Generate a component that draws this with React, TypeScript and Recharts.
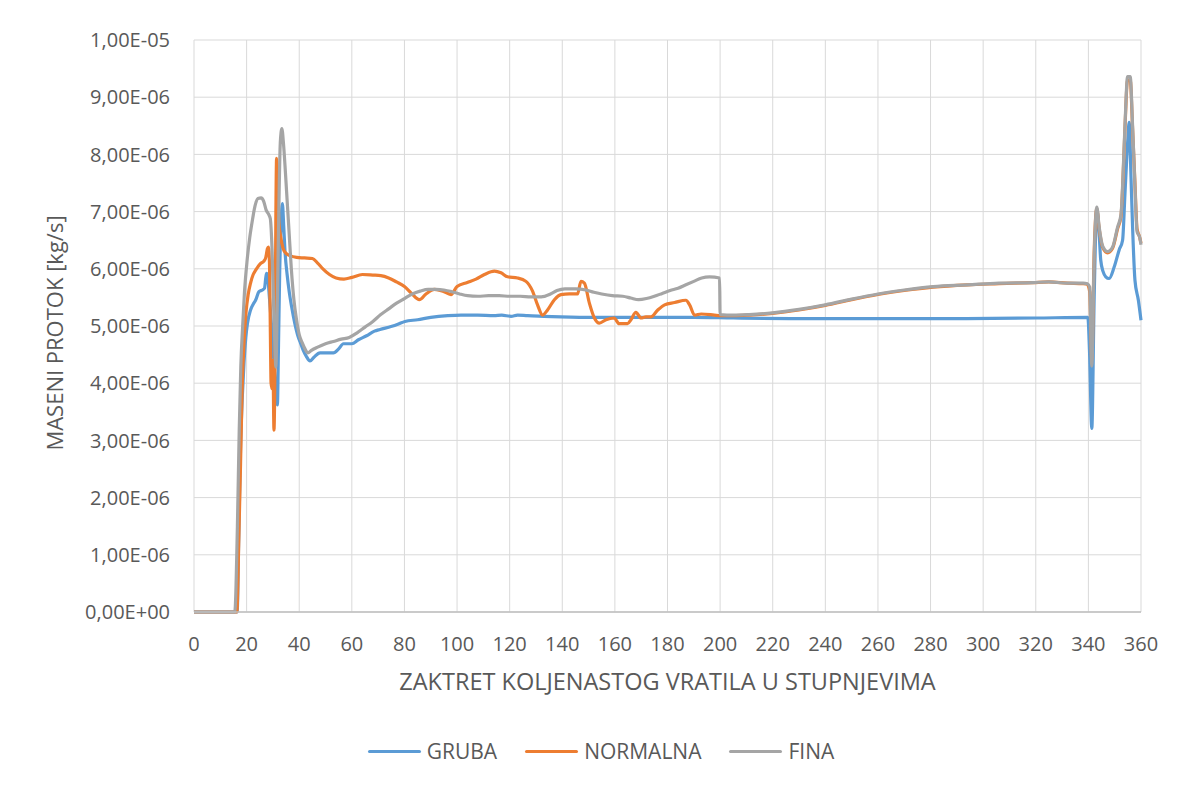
import React from 'react';
import { LineChart, Line, XAxis, YAxis, CartesianGrid, Legend } from 'recharts';

// values are in units of 1E-06 kg/s
const grubaDeg = [0, 16.4, 17, 17.7, 18.4, 19, 19.7, 20.3, 21.5, 22.5, 23.4, 24.7, 26, 26.8, 27.3, 27.6, 28, 28.5, 29, 29.8, 30.6, 31.2, 31.7, 32.1, 32.6, 33.1, 33.6, 34.1, 34.6, 35.4, 36.2, 37.1, 38.3, 39.6, 40.5, 41.5, 42.7, 44.1, 45.5, 47.9, 50, 53, 55, 56.8, 60, 62.5, 65.6, 68.6, 70.7, 74.9, 77.5, 80.2, 85, 90, 96.5, 101.5, 107.8, 114, 117, 120.5, 123, 126.8, 133, 139.5, 152, 165, 178, 190, 205, 230, 260, 290, 320, 339.8, 340.4, 341.3, 342.2, 343.2, 344.1, 344.7, 345.6, 346.6, 347.9, 349.8, 351.7, 353, 353.9, 354.9, 355.5, 356.2, 356.8, 357.7, 359, 360];
const grubaVal = [0, 0, 1.3, 2.9, 3.8, 4.35, 4.8, 5.04, 5.28, 5.38, 5.45, 5.6, 5.63, 5.66, 5.85, 5.92, 5.88, 5.6, 5.3, 4.8, 4.2, 3.75, 3.62, 4.6, 6.0, 6.8, 7.14, 6.75, 6.3, 5.9, 5.6, 5.34, 5.05, 4.81, 4.7, 4.58, 4.47, 4.39, 4.45, 4.53, 4.53, 4.53, 4.6, 4.69, 4.69, 4.76, 4.83, 4.91, 4.94, 4.99, 5.03, 5.08, 5.11, 5.15, 5.18, 5.19, 5.19, 5.18, 5.19, 5.17, 5.19, 5.18, 5.17, 5.16, 5.15, 5.15, 5.15, 5.15, 5.14, 5.13, 5.13, 5.13, 5.14, 5.15, 4.6, 3.21, 5.5, 7.05, 6.6, 6.15, 5.95, 5.86, 5.83, 6.03, 6.33, 6.5, 7.31, 8.19, 8.56, 7.6, 6.73, 5.8, 5.45, 5.1];

const normalnaDeg = [0, 16.3, 17, 17.7, 18.3, 19, 19.8, 20.6, 21.5, 22.5, 23.5, 24.5, 25.5, 26.5, 27.3, 27.9, 28.3, 28.7, 29, 29.3, 29.7, 30, 30.4, 30.8, 31.1, 31.4, 31.8, 32.3, 33, 33.9, 35, 36.5, 39, 42, 45, 47, 49, 51.5, 54, 57, 60, 64, 68, 71, 74, 77, 80, 82.5, 85.7, 88.2, 91.4, 94.6, 97.7, 100, 103.9, 107.2, 110.4, 114.2, 116.7, 119.2, 123, 126.2, 128.7, 130.6, 132.5, 134.4, 137, 139.5, 142.7, 145.8, 147.1, 148.4, 150.3, 152.2, 154.1, 156.6, 159.7, 161.6, 164.8, 166.1, 168, 169.9, 171.8, 173.7, 176.3, 178.9, 182.7, 187, 188.4, 190.3, 192.8, 197.8, 200, 205, 211, 220, 230, 240, 250, 260, 270, 281, 294, 306, 319, 325, 332, 338, 339.6, 340.5, 341.3, 342.2, 343.2, 344.1, 345.4, 347.3, 349.2, 351.1, 352.4, 353, 353.9, 354.9, 355.9, 356.8, 357.7, 358.5, 359.5, 360];
const normalnaVal = [0, 0, 1.2, 2.6, 3.9, 4.7, 5.25, 5.55, 5.75, 5.9, 5.98, 6.05, 6.1, 6.13, 6.2, 6.35, 6.38, 6.1, 5.0, 4.0, 3.9, 4.4, 3.18, 4.5, 6.8, 7.93, 7.4, 6.8, 6.55, 6.35, 6.27, 6.23, 6.2, 6.19, 6.18, 6.1, 6.0, 5.9, 5.84, 5.82, 5.85, 5.9, 5.89, 5.88, 5.84, 5.77, 5.69, 5.58, 5.46, 5.56, 5.64, 5.61, 5.55, 5.69, 5.76, 5.82, 5.9, 5.96, 5.93, 5.86, 5.84, 5.78, 5.61, 5.37, 5.19, 5.28, 5.46, 5.55, 5.56, 5.56, 5.78, 5.75, 5.4, 5.14, 5.05, 5.11, 5.14, 5.04, 5.04, 5.11, 5.24, 5.14, 5.16, 5.16, 5.28, 5.37, 5.41, 5.45, 5.37, 5.19, 5.21, 5.19, 5.18, 5.18, 5.19, 5.22, 5.28, 5.36, 5.46, 5.55, 5.62, 5.68, 5.72, 5.74, 5.76, 5.77, 5.75, 5.74, 5.73, 5.6, 4.4, 6.3, 7.05, 6.7, 6.38, 6.28, 6.36, 6.7, 6.92, 7.4, 8.45, 9.3, 9.3, 8.45, 7.5, 6.7, 6.55, 6.45];

const finaDeg = [0, 15.5, 16.5, 17.2, 17.8, 18.5, 19.2, 20.2, 21.2, 22.2, 23.2, 24.3, 25.5, 26.5, 27.4, 28.4, 29, 29.7, 30.3, 30.8, 31.1, 31.6, 32.2, 32.8, 33.4, 34, 34.6, 35.2, 36, 37, 38, 39, 40, 41.2, 42.2, 43.3, 44.5, 47, 50, 53, 56, 59, 62, 65, 68, 71, 74, 77, 80, 83, 86, 89, 92, 95, 98, 101, 104, 108, 112, 116, 120, 124, 128, 132, 135.5, 138, 141, 145, 149, 152, 155, 159, 163, 166, 169, 172, 175, 178, 181, 184, 187, 190, 193, 196, 199.8, 200, 205, 211, 220, 230, 240, 250, 260, 270, 281, 294, 306, 319, 325, 332, 338, 339.6, 340.5, 341.3, 342.2, 343.2, 344.1, 345.4, 347.3, 349.2, 351.1, 352.4, 353, 353.9, 354.9, 355.9, 356.8, 357.7, 358.5, 359.5, 360];
const finaVal = [0, 0, 1.5, 3.2, 4.3, 5.0, 5.6, 6.15, 6.55, 6.85, 7.1, 7.23, 7.24, 7.18, 7.03, 6.95, 6.88, 6.3, 5.3, 4.6, 4.28, 5.2, 6.9, 8.2, 8.45, 8.2, 7.8, 7.35, 6.75, 6.0, 5.45, 5.1, 4.85, 4.7, 4.6, 4.53, 4.57, 4.63, 4.69, 4.73, 4.77, 4.8, 4.88, 4.98, 5.08, 5.2, 5.3, 5.4, 5.48, 5.56, 5.61, 5.64, 5.64, 5.63, 5.6, 5.56, 5.53, 5.52, 5.53, 5.53, 5.52, 5.52, 5.51, 5.51, 5.56, 5.62, 5.65, 5.65, 5.63, 5.59, 5.56, 5.53, 5.52, 5.49, 5.46, 5.48, 5.52, 5.57, 5.62, 5.66, 5.72, 5.78, 5.84, 5.86, 5.84, 5.2, 5.19, 5.2, 5.23, 5.29, 5.37, 5.47, 5.56, 5.63, 5.69, 5.72, 5.75, 5.76, 5.77, 5.75, 5.75, 5.74, 5.68, 4.3, 6.2, 7.08, 6.73, 6.4, 6.3, 6.38, 6.73, 6.95, 7.45, 8.5, 9.36, 9.36, 8.5, 7.45, 6.65, 6.55, 6.42];

const xTicks = [0, 20, 40, 60, 80, 100, 120, 140, 160, 180, 200, 220, 240, 260, 280, 300, 320, 340, 360];
const yTicks = [0, 1, 2, 3, 4, 5, 6, 7, 8, 9, 10];

const SERIES = [
  { name: 'GRUBA', color: '#5B9BD5', deg: grubaDeg, val: grubaVal },
  { name: 'NORMALNA', color: '#ED7D31', deg: normalnaDeg, val: normalnaVal },
  { name: 'FINA', color: '#A5A5A5', deg: finaDeg, val: finaVal },
];

const FONT = '"Open Sans", sans-serif';
const TEXT = '#595959';

// 1 -> "1,00E-06", 10 -> "1,00E-05", 0 -> "0,00E+00"
const fmtSci = (v: number) => {
  if (v === 0) return '0,00E+00';
  const [m, e] = (v * 1e-6).toExponential(2).split('e');
  const exp = parseInt(e, 10);
  const sign = exp < 0 ? '-' : '+';
  return `${m.replace('.', ',')}E${sign}${String(Math.abs(exp)).padStart(2, '0')}`;
};

const LegendContent = () => (
  <div style={{ height: 52, paddingLeft: 17, display: 'flex', justifyContent: 'center', alignItems: 'center', fontFamily: FONT, fontSize: 21, color: TEXT }}>
    {SERIES.map(s => (
      <div key={s.name} style={{ display: 'flex', alignItems: 'center', margin: '0 14px' }}>
        <span style={{ width: 53, height: 3, background: s.color, borderRadius: 2, marginRight: 6 }}></span>
        {s.name}
      </div>
    ))}
  </div>
);

export default function App() {
  const W = 1169;
  const H = 769;
  return (
    <div style={{ position: 'relative', width: W, height: H, fontFamily: FONT }}>
      <div style={{ position: 'absolute', left: -1, top: -1, width: W + 1, height: H + 1, borderTop: '1px solid #d9d9d9', borderLeft: '1px solid #d9d9d9', boxSizing: 'border-box' }} />
      <LineChart width={W} height={H} margin={{ top: 32, right: 36, left: 0, bottom: 0 }}>
        <CartesianGrid stroke="#d9d9d9" strokeWidth={1} />
        <XAxis
          type="number"
          dataKey="x"
          domain={[0, 360]}
          ticks={xTicks}
          interval={0}
          height={113}
          tickLine={false}
          tickSize={0}
          tickMargin={25}
          axisLine={{ stroke: '#bfbfbf', strokeWidth: 1.5 }}
          tick={{ fill: TEXT, fontSize: 20, fontFamily: FONT }}
        />
        <YAxis
          type="number"
          domain={[0, 10]}
          ticks={yTicks}
          interval={0}
          width={186}
          tickLine={false}
          axisLine={false}
          tickSize={0}
          tickMargin={24}
          tickFormatter={fmtSci}
          tick={{ fill: TEXT, fontSize: 20, fontFamily: FONT }}
        />
        <Legend verticalAlign="bottom" height={52} width={W} wrapperStyle={{ left: 0 }} content={<LegendContent />} />
        {SERIES.map(s => (
          <Line
            key={s.name}
            name={s.name}
            data={s.deg.map((d, i) => ({ x: d, y: s.val[i] }))}
            dataKey="y"
            type="monotone"
            stroke={s.color}
            strokeWidth={3.2}
            strokeLinejoin="round"
            dot={false}
            activeDot={false}
            isAnimationActive={false}
          />
        ))}
      </LineChart>
      <div style={{ position: 'absolute', left: 186, width: 947, top: 659, textAlign: 'center', fontSize: 23.5, lineHeight: '28px', color: TEXT, whiteSpace: 'nowrap' }}>
        ZAKTRET KOLJENASTOG VRATILA U STUPNJEVIMA
      </div>
      <div style={{ position: 'absolute', left: 46, top: 325, transform: 'translate(-50%, -50%) rotate(-90deg)', fontSize: 22, lineHeight: '28px', color: TEXT, whiteSpace: 'nowrap' }}>
        MASENI PROTOK [kg/s]
      </div>
    </div>
  );
}
